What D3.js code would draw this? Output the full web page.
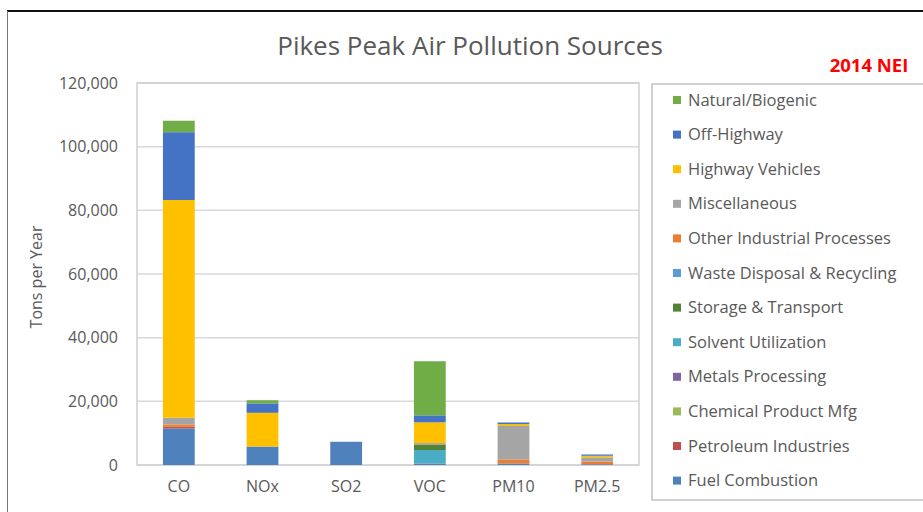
<!DOCTYPE html>
<html>
    <head>
        <script src="https://cdnjs.cloudflare.com/ajax/libs/d3/7.8.5/d3.min.js"></script>
        <title>Pikes Peak Air Pollution Sources</title>
        <style>
            html, body {
                margin: 0;
                background: #ffffff;
            }
            svg {
                display: block;
                font-family: "Open Sans", sans-serif;
            }
        </style>
    </head>
    <body>
        <svg width="923" height="512" class="chart"></svg>

        <script>
            // pollutants on the x axis
            var categories = ["CO", "NOx", "SO2", "VOC", "PM10", "PM2.5"];

            // source sectors, bottom of the stack first
            var sources = [
                "Fuel Combustion", "Petroleum Industries", "Chemical Product Mfg",
                "Metals Processing", "Solvent Utilization", "Storage & Transport",
                "Waste Disposal & Recycling", "Other Industrial Processes",
                "Miscellaneous", "Highway Vehicles", "Off-Highway", "Natural/Biogenic"
            ];

            var colors = [
                "#4f81bd", "#c0504d", "#9bbb59", "#8064a2", "#4bacc6", "#548235",
                "#5b9bd5", "#ed7d31", "#a5a5a5", "#ffc000", "#4472c4", "#70ad47"
            ];

            // tons per year, one array per source, in category order
            var fuelCombustion   = [11500, 5800, 7300, 500, 500, 250];
            var petroleum        = [500, 0, 0, 0, 0, 0];
            var chemicalProduct  = [0, 0, 0, 0, 0, 0];
            var metals           = [0, 0, 0, 0, 0, 0];
            var solvent          = [0, 0, 0, 4200, 0, 0];
            var storage          = [0, 0, 0, 1600, 0, 0];
            var wasteDisposal    = [0, 0, 0, 0, 0, 0];
            var otherIndustrial  = [750, 0, 0, 0, 1250, 850];
            var miscellaneous    = [2100, 0, 0, 600, 10500, 1300];
            var highway          = [68400, 10600, 0, 6500, 600, 500];
            var offHighway       = [21300, 2950, 0, 2200, 500, 400];
            var natural          = [3600, 1000, 0, 17000, 0, 0];

            var yTicks = [0, 20000, 40000, 60000, 80000, 100000, 120000];

            var seriesValues = [fuelCombustion, petroleum, chemicalProduct, metals, solvent,
                storage, wasteDisposal, otherIndustrial, miscellaneous, highway, offHighway, natural];

            var rows = categories.map(function(c, i) {
                var row = {category: c};
                sources.forEach(function(s, j) { row[s] = seriesValues[j][i]; });
                return row;
            });

            var svg = d3.select(".chart");
            var plotLeft = 137, plotRight = 639, plotTop = 83, plotBottom = 465;

            // outer frame
            svg.append("line").attr("x1", 7).attr("x2", 923).attr("y1", 11).attr("y2", 11)
                .attr("stroke", "#111").attr("stroke-width", 2);
            svg.append("line").attr("x1", 7.5).attr("x2", 7.5).attr("y1", 11).attr("y2", 512)
                .attr("stroke", "#777").attr("stroke-width", 1);

            var x = d3.scaleBand().domain(categories).range([plotLeft, plotRight]).paddingInner(0.62).paddingOuter(0.31);
            var y = d3.scaleLinear().domain([0, 120000]).range([plotBottom, plotTop]);

            // gridlines
            svg.append("g")
                .selectAll("line")
                .data(yTicks)
                .enter()
                .append("line")
                .attr("x1", plotLeft).attr("x2", plotRight)
                .attr("y1", function(d){ return y(d); })
                .attr("y2", function(d){ return y(d); })
                .attr("stroke", "#d9d9d9").attr("stroke-width", 1.5);

            // plot area border
            svg.append("rect")
                .attr("x", plotLeft).attr("y", plotTop)
                .attr("width", plotRight - plotLeft).attr("height", plotBottom - plotTop)
                .attr("fill", "none").attr("stroke", "#d0d0d0").attr("stroke-width", 1.5);

            var stack = d3.stack().keys(sources);
            var layers = stack(rows);

            svg.append("g")
                .selectAll("g")
                .data(layers)
                .enter()
                .append("g")
                .attr("fill", function(d, i){ return colors[i]; })
                .selectAll("rect")
                .data(function(d){ return d; })
                .enter()
                .append("rect")
                .attr("x", function(d){ return x(d.data.category); })
                .attr("width", x.bandwidth())
                .attr("y", function(d){ return y(d[1]); })
                .attr("height", function(d){ return y(d[0]) - y(d[1]); });

            // y axis
            var yAxis = svg.append("g")
                .attr("transform", "translate(" + (plotLeft - 16) + ",0)")
                .call(d3.axisLeft(y).tickValues(yTicks).tickSize(0).tickFormat(d3.format(",")));
            yAxis.select(".domain").remove();
            yAxis.selectAll("text")
                .attr("fill", "#595959").attr("font-size", "16px")
                .attr("font-family", "Open Sans, sans-serif");

            // x axis
            var xAxis = svg.append("g")
                .attr("transform", "translate(0," + (plotBottom + 13) + ")")
                .call(d3.axisBottom(x).tickSize(0));
            xAxis.select(".domain").remove();
            xAxis.selectAll("text")
                .attr("fill", "#595959").attr("font-size", "16px")
                .attr("font-family", "Open Sans, sans-serif");

            svg.append("text")
                .attr("transform", "translate(42," + ((plotTop + plotBottom) / 2 + 3) + ") rotate(-90)")
                .attr("text-anchor", "middle")
                .attr("fill", "#595959").attr("font-size", "16px")
                .text("Tons per Year");

            svg.append("text")
                .attr("x", 470).attr("y", 55)
                .attr("text-anchor", "middle")
                .attr("fill", "#595959").attr("font-size", "26px")
                .text("Pikes Peak Air Pollution Sources");

            svg.append("text")
                .attr("x", 869).attr("y", 72)
                .attr("text-anchor", "middle")
                .attr("fill", "#ff0000").attr("font-size", "18.5px").attr("font-weight", "bold")
                .text("2014 NEI");

            // legend
            svg.append("rect")
                .attr("x", 652).attr("y", 84).attr("width", 290).attr("height", 416)
                .attr("fill", "#fff").attr("stroke", "#d0d0d0").attr("stroke-width", 2);

            var legendItems = sources.slice().reverse();
            var legend = svg.append("g")
                .selectAll("g")
                .data(legendItems)
                .enter()
                .append("g")
                .attr("transform", function(d, i){ return "translate(673," + (100 + i * 34.6) + ")"; });

            legend.append("rect")
                .attr("x", 0).attr("y", -4).attr("width", 8).attr("height", 8)
                .attr("fill", function(d){ return colors[sources.indexOf(d)]; });

            legend.append("text")
                .attr("x", 15).attr("y", 5.5)
                .attr("fill", "#595959").attr("font-size", "16.5px")
                .text(function(d){ return d; });
        </script>
    </body>
</html>
